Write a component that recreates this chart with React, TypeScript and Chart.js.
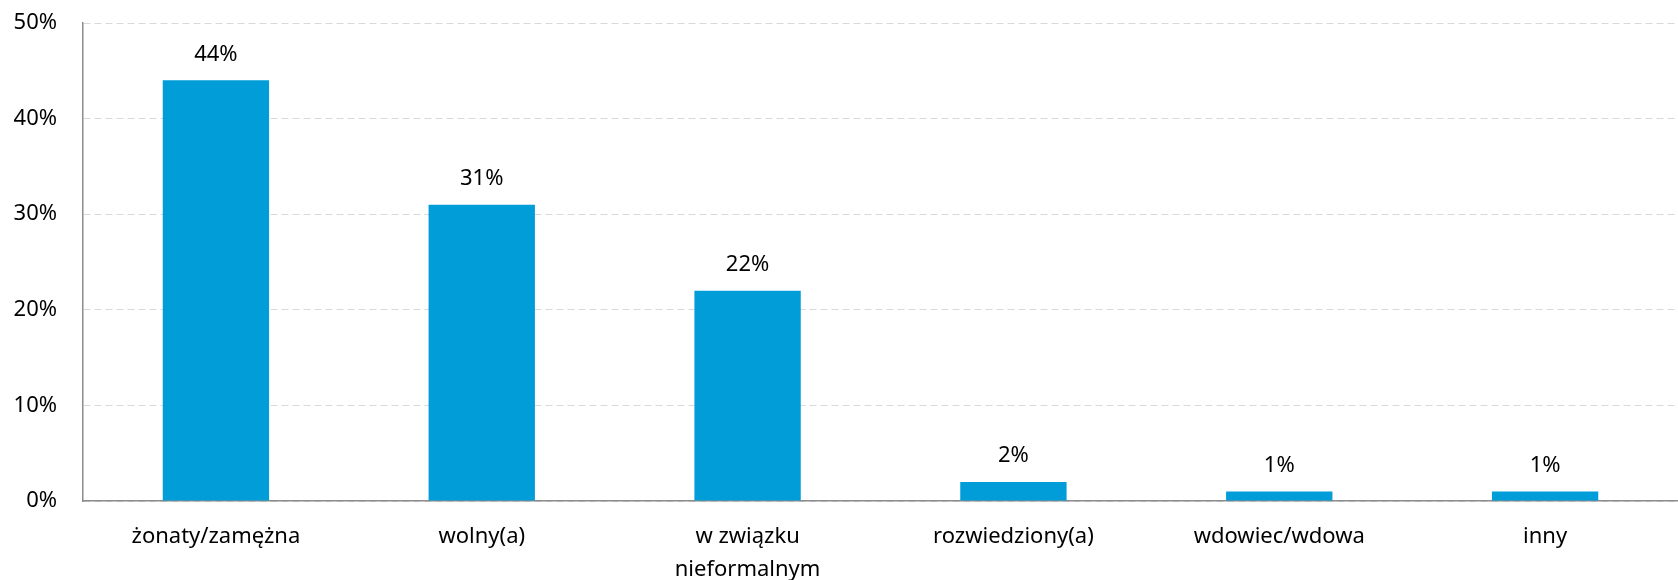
import React, { useEffect, useRef } from "react";
import { Chart, registerables } from "chart.js";

Chart.register(...registerables);

const categories: (string | string[])[] = [
  "żonaty/zamężna",
  "wolny(a)",
  ["w związku", "nieformalnym"],
  "rozwiedziony(a)",
  "wdowiec/wdowa",
  "inny",
];
const values: number[] = [44, 31, 22, 2, 1, 1];
const yMax = 50;
const yStep = 10;

const FONT = "'Noto Sans', sans-serif";
const FSIZE = 22;

const labelPlugin = {
  id: "barLabels",
  afterDatasetsDraw(chart: any) {
    const ctx = chart.ctx;
    const meta = chart.getDatasetMeta(0);
    ctx.save();
    ctx.font = `${FSIZE}px ${FONT}`;
    ctx.fillStyle = "#000";
    ctx.textAlign = "center";
    ctx.textBaseline = "middle";
    meta.data.forEach((el: any, i: number) => {
      ctx.fillText(values[i] + "%", el.x, el.y - 26);
    });
    ctx.restore();
  },
};

export default function App() {
  const ref = useRef<HTMLCanvasElement>(null);
  useEffect(() => {
    if (!ref.current) return;
    const chart = new Chart(ref.current, {
      type: "bar",
      data: {
        labels: categories,
        datasets: [
          {
            data: values,
            backgroundColor: "#019dd9",
            barPercentage: 0.8,
            categoryPercentage: 0.5,
          },
        ],
      },
      options: {
        animation: false,
        responsive: false,
        maintainAspectRatio: false,
        layout: { padding: { top: 23, right: 0, left: 0, bottom: 0 } },
        plugins: {
          legend: { display: false },
          tooltip: { enabled: false },
        },
        scales: {
          x: {
            grid: { display: false, drawTicks: false },
            border: { color: "#8c8c8c", width: 1.5 },
            ticks: {
              color: "#000",
              font: { family: FONT, size: FSIZE, lineHeight: 1.5 },
              padding: 19,
              maxRotation: 0,
              autoSkip: false,
            },
            afterFit(scale: any) {
              scale.height = 79;
              scale.paddingLeft = 0;
              scale.paddingRight = 0;
            },
          },
          y: {
            min: 0,
            max: yMax,
            grid: {
              color: "#d9d9d9",
              lineWidth: 1,
              drawTicks: false,
            },
            border: { color: "#8c8c8c", width: 1.5, dash: [7, 4] },
            ticks: {
              stepSize: yStep,
              color: "#000",
              font: { family: FONT, size: FSIZE },
              padding: 26,
              callback: (v: any) => v + "%",
            },
            afterFit(scale: any) {
              scale.width = 83;
              scale.paddingTop = 0;
              scale.paddingBottom = 0;
            },
          },
        },
      },
      plugins: [labelPlugin],
    } as any);
    return () => chart.destroy();
  }, []);
  return (
    <div style={{ position: "absolute", left: 0, top: 0, width: 1678, height: 580 }}>
      <canvas ref={ref} width={1678} height={580} style={{ display: "block" }} />
    </div>
  );
}
